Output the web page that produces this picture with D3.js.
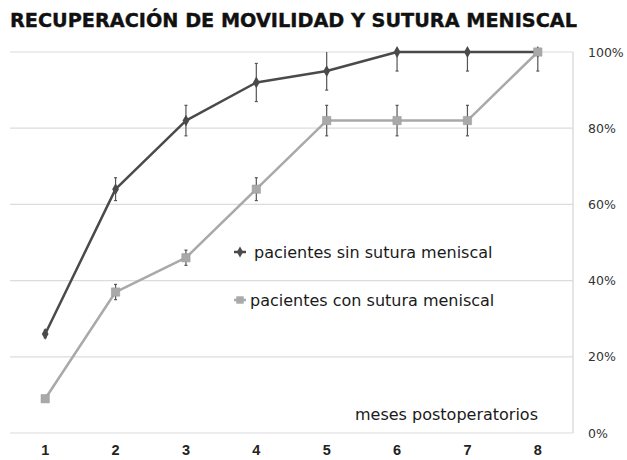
<!DOCTYPE html>
<html><head><meta charset="utf-8">
<script src="https://cdn.jsdelivr.net/npm/d3@7"></script>
<style>body{margin:0;background:#fff}svg{display:block}</style>
</head><body>
<svg id="c" width="627" height="460"></svg>
<script>
const months = ["1","2","3","4","5","6","7","8"];
const sinSutura = [26, 64, 82, 92, 95, 100, 100, 100];
const sinSuturaErr = [1, 3, 4, 5, 5, 5, 5, 0];
const conSutura = [9, 37, 46, 64, 82, 82, 82, 100];
const conSuturaErr = [0, 2, 2, 3, 4, 4, 4, 5];
const yTicks = [0, 20, 40, 60, 80, 100];
const seriesNames = ["pacientes sin sutura meniscal", "pacientes con sutura meniscal"];
const title = "RECUPERACIÓN DE MOVILIDAD Y SUTURA MENISCAL";
const xTitle = "meses postoperatorios";

const svg = d3.select("#c");
const L = 10, R = 573, T = 52, B = 433;
const x = d3.scaleBand().domain(months).range([L, R]);
const y = d3.scaleLinear().domain([0, 100]).range([B, T]);
const cx = m => x(m) + x.bandwidth() / 2;

// title
svg.append("text").attr("x", 10).attr("y", 27)
  .attr("font-family", "DejaVu Sans").attr("font-weight", "bold").attr("font-size", 20)
  .attr("fill", "#111").attr("stroke", "#111").attr("stroke-width", 0.4)
  .attr("textLength", 567).attr("lengthAdjust", "spacingAndGlyphs")
  .text(title);

// grid
svg.append("g").selectAll("line").data(yTicks).join("line")
  .attr("x1", L).attr("x2", R).attr("y1", d => y(d)).attr("y2", d => y(d))
  .attr("stroke", "#dcdcdc").attr("stroke-width", 1.2);
svg.append("line").attr("x1", R).attr("x2", R).attr("y1", y(100)).attr("y2", y(0))
  .attr("stroke", "#d4d4d4").attr("stroke-width", 1.2);

// right axis labels
const yAxis = d3.axisRight(y).tickValues(yTicks).tickFormat(d => d + "%").tickSize(0).tickPadding(15);
const ga = svg.append("g").attr("transform", `translate(${R},0)`).call(yAxis);
ga.select(".domain").remove();
ga.selectAll("text").attr("font-family", "DejaVu Sans").attr("font-size", 12.5).attr("fill", "#333");

// bottom axis labels
const xAxis = d3.axisBottom(x).tickSize(0).tickPadding(12);
const gx = svg.append("g").attr("transform", `translate(0,${B})`).call(xAxis);
gx.select(".domain").remove();
gx.selectAll("text").attr("font-family", "Liberation Sans").attr("font-weight", "bold").attr("font-size", 14.5).attr("fill", "#222");

const series = [
  {vals: sinSutura, err: sinSuturaErr, color: "#4a4a4a", marker: "diamond"},
  {vals: conSutura, err: conSuturaErr, color: "#a9a9a9", marker: "square"}
];
const line = d3.line().x((d, i) => cx(months[i])).y(d => y(d));

[0, 1].forEach(si => {
  const s = series[si];
  const g = svg.append("g");
  s.vals.forEach((v, i) => {
    if (!s.err[i]) return;
    const hi = Math.min(100, v + s.err[i]), lo = v - s.err[i];
    const X = cx(months[i]);
    g.append("line").attr("x1", X).attr("x2", X).attr("y1", y(hi)).attr("y2", y(lo))
      .attr("stroke", "#555").attr("stroke-width", 1.2);
    [hi, lo].forEach(e => {
      if (e >= 100) return;
      g.append("line").attr("x1", X - 1.5).attr("x2", X + 1.5).attr("y1", y(e)).attr("y2", y(e))
        .attr("stroke", "#555").attr("stroke-width", 1.2);
    });
  });
  g.append("path").datum(s.vals).attr("d", line).attr("fill", "none")
    .attr("stroke", s.color).attr("stroke-width", 2.5).attr("stroke-linejoin", "round");
  const sym = s.marker === "diamond" ? d3.symbolDiamond : d3.symbolSquare;
  const size = s.marker === "diamond" ? 40 : 70;
  g.selectAll("path.m").data(s.vals).join("path").attr("class", "m")
    .attr("transform", (d, i) => `translate(${cx(months[i])},${y(d)})`)
    .attr("d", d3.symbol(sym, size)).attr("fill", s.color)
    .attr("stroke", s.marker === "square" ? "#999" : "none").attr("stroke-width", 0.5);
});

// legend
const legY = [252, 300];
series.forEach((s, i) => {
  const g = svg.append("g").attr("transform", `translate(240,${legY[i]})`);
  g.append("line").attr("x1", -6).attr("x2", 6).attr("stroke", s.color).attr("stroke-width", 2.5);
  const sym = s.marker === "diamond" ? d3.symbolDiamond : d3.symbolSquare;
  g.append("path").attr("d", d3.symbol(sym, s.marker === "diamond" ? 35 : 55)).attr("fill", s.color);
  g.append("text").attr("x", i === 0 ? 14 : 10).attr("y", 5.5).attr("font-family", "DejaVu Sans")
    .attr("font-size", 16).attr("fill", "#1a1a1a").text(seriesNames[i]);
});

svg.append("text").attr("x", 355).attr("y", 420).attr("font-family", "DejaVu Sans")
  .attr("font-size", 16).attr("fill", "#1a1a1a").text(xTitle);
</script>
</body></html>
